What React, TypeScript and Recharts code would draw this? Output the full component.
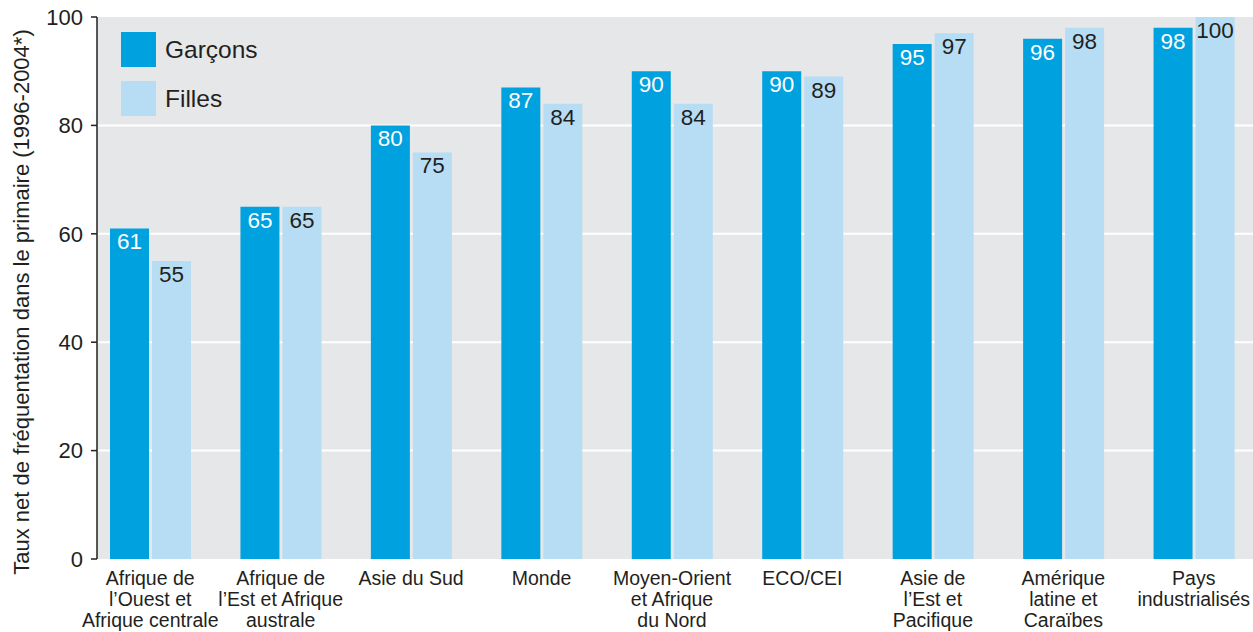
import React from 'react';
import { BarChart, Bar, XAxis, YAxis, CartesianGrid, LabelList, Legend } from 'recharts';

const categories = [
  "Afrique de\nl’Ouest et\nAfrique centrale",
  "Afrique de\nl’Est et Afrique\naustrale",
  "Asie du Sud",
  "Monde",
  "Moyen-Orient\net Afrique\ndu Nord",
  "ECO/CEI",
  "Asie de\nl’Est et\nPacifique",
  "Amérique\nlatine et\nCaraïbes",
  "Pays\nindustrialisés",
];
const garcons = [61, 65, 80, 87, 90, 90, 95, 96, 98];
const filles = [55, 65, 75, 84, 84, 89, 97, 98, 100];
const yTicks = [0, 20, 40, 60, 80, 100];
const gridValues = [20, 40, 60, 80];
const seriesNames = ["Garçons", "Filles"];
const yLabel = "Taux net de fréquentation dans le primaire (1996-2004*)";

const BLUE = "#00a1df";
const LIGHT = "#b6ddf3";
const TEXT = "#231f20";
const FONT = "'Liberation Sans', Arial, sans-serif";

const data = categories.map((c, i) => ({ name: c, garcons: garcons[i], filles: filles[i] }));

const XTick = (props: any) => {
  const { x, y, payload } = props;
  const lines = String(payload.value).split("\n");
  return (
    <text x={x} y={y + 26} textAnchor="middle" fill={TEXT} fontSize={19.5} fontFamily={FONT}>
      {lines.map((l, i) => (
        <tspan key={i} x={x} dy={i === 0 ? 0 : 21}>{l}</tspan>
      ))}
    </text>
  );
};

const LegendContent = () => (
  <div style={{ fontFamily: FONT, color: TEXT }}>
    {[BLUE, LIGHT].map((c, i) => (
      <div key={i} style={{ display: 'flex', alignItems: 'center', height: 35, marginBottom: i === 0 ? 14 : 0 }}>
        <div style={{ width: 35, height: 35, background: c }} />
        <span style={{ marginLeft: 9, fontSize: 24.5 }}>{seriesNames[i]}</span>
      </div>
    ))}
  </div>
);

const YLabel = () => (
  <text
    x={21}
    y={302}
    transform="rotate(-90 21 302)"
    textAnchor="middle"
    dominantBaseline="central"
    fill={TEXT}
    fontSize={22}
    fontFamily={FONT}
  >
    {yLabel}
  </text>
);

export default function App() {
  return (
    <div style={{ position: 'absolute', left: 0, top: 0, width: 1253, height: 632, background: '#fff' }}>
      <BarChart
        width={1253}
        height={632}
        data={data}
        margin={{ top: 17, right: 0, left: 0, bottom: 0 }}
        barSize={39}
        barGap={3}
      >
        <CartesianGrid
          vertical={false}
          horizontalValues={gridValues}
          stroke="#ffffff"
          strokeWidth={2}
          fill="#e6e7e9"
          fillOpacity={1}
        />
        <XAxis
          dataKey="name"
          interval={0}
          tick={<XTick />}
          axisLine={false}
          tickLine={false}
          tickSize={0}
          tickMargin={0}
          height={73}
          padding={{ left: -12, right: -6 }}
        />
        <YAxis
          domain={[0, 100]}
          ticks={yTicks}
          interval={0}
          width={97}
          axisLine={{ stroke: TEXT, strokeWidth: 1.5 }}
          tickLine={{ stroke: TEXT, strokeWidth: 1.5 }}
          tickSize={6}
          tickMargin={8}
          tick={{ fontSize: 22, fill: TEXT, fontFamily: FONT }}
          label={<YLabel />}
        />
        <Legend
          verticalAlign="middle"
          align="center"
          layout="horizontal"
          content={<LegendContent />}
          wrapperStyle={{ position: 'absolute', left: 121, top: 32, width: 200, height: 90 }}
        />
        <Bar dataKey="garcons" name={seriesNames[0]} fill={BLUE} isAnimationActive={false}>
          <LabelList dataKey="garcons" position="insideTop" offset={5} fill="#ffffff" fontSize={22.5} fontFamily={FONT} />
        </Bar>
        <Bar dataKey="filles" name={seriesNames[1]} fill={LIGHT} isAnimationActive={false}>
          <LabelList dataKey="filles" position="insideTop" offset={5} fill={TEXT} fontSize={22.5} fontFamily={FONT} />
        </Bar>
      </BarChart>
    </div>
  );
}
